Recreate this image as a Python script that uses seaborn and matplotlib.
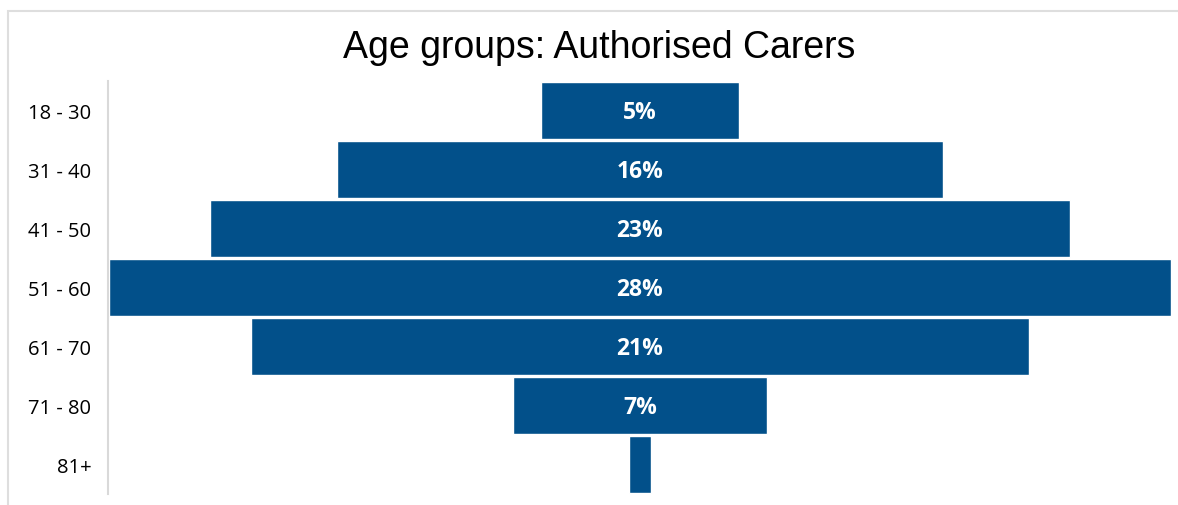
import pandas as pd
import seaborn as sns
import matplotlib.pyplot as plt
from matplotlib.patches import Rectangle

age_groups = ["18 - 30", "31 - 40", "41 - 50", "51 - 60", "61 - 70", "71 - 80", "81+"]
shares = [5.2, 16.0, 22.7, 28.0, 20.5, 6.7, 0.6]
labels = ["5%", "16%", "23%", "28%", "21%", "7%", ""]

BLUE = "#02508A"


def plot_funnel(df):
    fig = plt.figure(figsize=(11.78, 5.06), dpi=100)
    ax = fig.add_axes([108 / 1178, 1 - 495 / 506, 1064 / 1178, 413 / 506])

    sns.barplot(data=df, x="share", y="age", orient="h", color=BLUE,
                width=0.95, saturation=1, ax=ax)

    # centre each bar on zero to get the funnel shape
    for bar, lab in zip(ax.patches, df["label"]):
        w = bar.get_width()
        bar.set_x(-w / 2)
        y = bar.get_y() + bar.get_height() / 2
        ax.text(0, y + 0.03, lab, ha="center", va="center", color="white",
                fontsize=16.5, fontweight="bold", family="Open Sans")

    half = df["share"].max() / 2 * 1064 / 1062
    ax.set_xlim(-half, half)
    ax.set_ylim(len(df) - 0.5, -0.5)
    ax.set_xticks([])
    ax.set_xlabel("")
    ax.set_ylabel("")
    ax.tick_params(axis="y", length=0, pad=12, labelsize=14.5, labelcolor="black")
    for t in ax.get_yticklabels():
        t.set_family("Open Sans")
    for side in ["top", "right", "bottom"]:
        ax.spines[side].set_visible(False)
    ax.spines["left"].set_color("#d9d9d9")
    ax.spines["left"].set_linewidth(1.5)

    fig.text(599 / 1178, 1 - 48 / 506, "Age groups: Authorised Carers",
             ha="center", va="center", fontsize=27, color="black",
             family="Liberation Sans")

    # light outer frame of the chart area
    fig.patches.append(Rectangle((8 / 1178, -0.1), 1.2, 1.1 - 12 / 506,
                                 transform=fig.transFigure, fill=False,
                                 edgecolor="#dedede", linewidth=1.5))
    fig.savefig("out.png", dpi=100)


if __name__ == "__main__":
    sns.set_theme(style="white")
    data = pd.DataFrame({"age": age_groups, "share": shares, "label": labels})
    plot_funnel(data)
